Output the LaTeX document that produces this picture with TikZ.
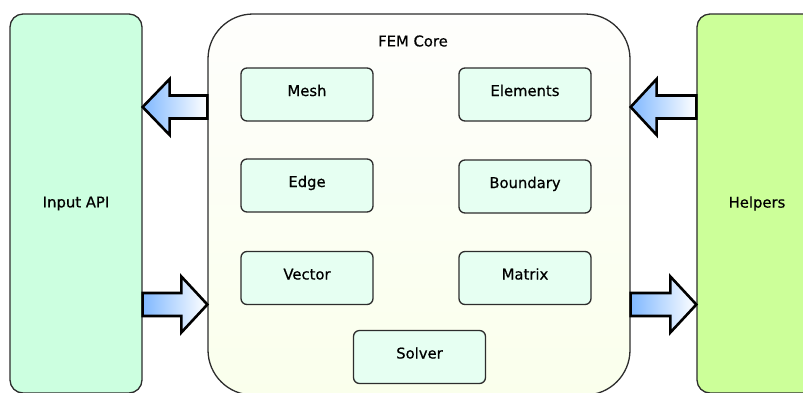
\documentclass[tikz,border=0pt]{standalone}
\usepackage{fontspec}
\setmainfont{DejaVu Sans}[FakeBold=0.6]
\usetikzlibrary{calc}
\definecolor{apifill}{RGB}{204,255,224}
\definecolor{helpfill}{RGB}{204,255,153}
\definecolor{innerfill}{RGB}{230,255,242}
\definecolor{coretop}{RGB}{254,254,252}
\definecolor{corebot}{RGB}{250,255,236}
\definecolor{arrowblue}{RGB}{128,184,255}
\definecolor{edgegray}{RGB}{45,45,45}
\begin{document}
\begin{tikzpicture}[x=1pt,y=-1pt,
  every node/.style={font=\fontsize{14.8}{17}\selectfont, text=black},
  outerbox/.style={draw=edgegray, line width=1.3pt, rounded corners=13pt, minimum width=132pt, minimum height=379pt, inner sep=0pt},
  corebox/.style={draw=edgegray, line width=1.3pt, rounded corners=45pt, minimum width=422pt, minimum height=381pt, inner sep=0pt, top color=coretop, bottom color=corebot},
  innerbox/.style={draw=edgegray, line width=1.3pt, rounded corners=6pt, fill=innerfill, minimum width=132pt, minimum height=53pt, inner sep=0pt, text height=11pt, text depth=8pt},
  blockarrow/.style={draw=black, line width=2.6pt, line join=miter, left color=arrowblue, right color=white}
]
\useasboundingbox (0,0) rectangle (803,392);
% outer blocks
\node[outerbox, fill=apifill] (api) at (76,203.5) {Input API};
\node[outerbox, fill=helpfill, minimum width=120pt] (help) at (757,203.5) {Helpers};
\node[corebox] (core) at (419,204.5) {};
\node (coretitle) at (413,41) {FEM Core};
% inner blocks
\node[innerbox] (mesh) at (307,94.5) {Mesh};
\node[innerbox] (elem) at (525,94.5) {Elements};
\node[innerbox] (edge) at (307,185.5) {Edge};
\node[innerbox] (bound) at (525,186.5) {Boundary};
\node[innerbox] (vec) at (307,278) {Vector};
\node[innerbox] (mat) at (525,278) {Matrix};
\node[innerbox] (solv) at (419.5,357) {Solver};
% arrow levels
\coordinate (lvtop) at (0,107);
\coordinate (lvbot) at (0,304.5);
\coordinate (T1) at (api.east |- lvtop);
\coordinate (S1) at (core.west |- lvtop);
\coordinate (S2) at (api.east |- lvbot);
\coordinate (T2) at (core.west |- lvbot);
\coordinate (T3) at (core.east |- lvtop);
\coordinate (S3) at (help.west |- lvtop);
\coordinate (S4) at (core.east |- lvbot);
\coordinate (T4) at (help.west |- lvbot);
% left-pointing arrows
\draw[blockarrow] (T1) -- ($(T1)+(27,-28)$) -- ($(T1)+(27,-11.5)$) -- ($(S1)+(0,-11.5)$) -- ($(S1)+(0,11.5)$) -- ($(T1)+(27,11.5)$) -- ($(T1)+(27,28)$) -- cycle;
\draw[blockarrow] (T3) -- ($(T3)+(26,-28)$) -- ($(T3)+(26,-11.5)$) -- ($(S3)+(0,-11.5)$) -- ($(S3)+(0,11.5)$) -- ($(T3)+(26,11.5)$) -- ($(T3)+(26,28)$) -- cycle;
% right-pointing arrows
\draw[blockarrow] ($(S2)+(0,-11.5)$) -- ($(T2)+(-26,-11.5)$) -- ($(T2)+(-26,-28)$) -- (T2) -- ($(T2)+(-26,28)$) -- ($(T2)+(-26,11.5)$) -- ($(S2)+(0,11.5)$) -- cycle;
\draw[blockarrow] ($(S4)+(0,-11.5)$) -- ($(T4)+(-26,-11.5)$) -- ($(T4)+(-26,-28)$) -- (T4) -- ($(T4)+(-26,28)$) -- ($(T4)+(-26,11.5)$) -- ($(S4)+(0,11.5)$) -- cycle;
\end{tikzpicture}
\end{document}
